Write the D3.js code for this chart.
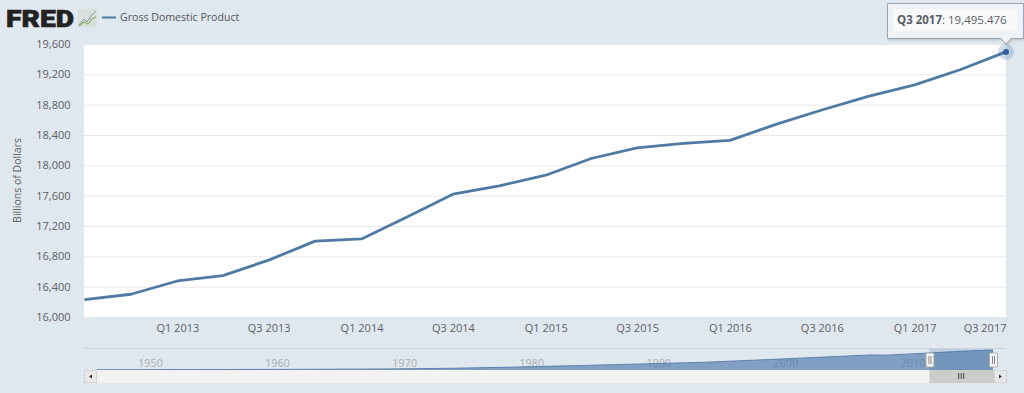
<!DOCTYPE html>
<html><head><meta charset="utf-8">
<script src="https://cdnjs.cloudflare.com/ajax/libs/d3/7.8.5/d3.min.js"></script>
<style>
html,body{margin:0;padding:0;background:#dfe7ef}
svg{display:block}
text{font-family:"Open Sans",sans-serif}
</style></head><body>
<svg id="c" width="1024" height="393"></svg>
<script>
const quarters=["2012-07-01","2012-10-01","2013-01-01","2013-04-01","2013-07-01","2013-10-01","2014-01-01","2014-04-01","2014-07-01","2014-10-01","2015-01-01","2015-04-01","2015-07-01","2015-10-01","2016-01-01","2016-04-01","2016-07-01","2016-10-01","2017-01-01","2017-04-01","2017-07-01"];
const gdp=[16230,16300,16475,16545,16750,17000,17030,17320,17620,17730,17870,18090,18230,18290,18330,18540,18730,18910,19060,19260,19495.476];
const yTicks=[16000,16400,16800,17200,17600,18000,18400,18800,19200,19600];
const xTickLabels=["2013-01-01","2013-07-01","2014-01-01","2014-07-01","2015-01-01","2015-07-01","2016-01-01","2016-07-01","2017-01-01","2017-07-01"];
const navYears=[1947,1950,1955,1960,1965,1970,1975,1980,1985,1990,1995,2000,2005,2008,2009,2012,2015,2017.5];
const navValues=[243,280,426,540,743,1050,1690,2860,4340,5960,7640,10250,13040,14700,14420,16230,18230,19495];
const navTicks=[1950,1960,1970,1980,1990,2000,2010];
const seriesName="Gross Domestic Product";
const yTitle="Billions of Dollars";

const parse=d3.utcParse("%Y-%m-%d");
const W=1024,H=393,m={l:84.5,r:1006,t:44,b:317};
const LINE="#4f7aa3";
const svg=d3.select("#c");
const x=d3.scaleUtc().domain([parse(quarters[0]),parse(quarters[quarters.length-1])]).range([m.l,m.r]);
const y=d3.scaleLinear().domain([16000,19600]).range([m.b,m.t]);

svg.append("rect").attr("x",84).attr("y",m.t).attr("width",m.r-84).attr("height",m.b-m.t).attr("fill","#fff");

// grid + y axis
const yAxis=d3.axisLeft(y).tickValues(yTicks).tickFormat(d3.format(",")).tickSize(-(m.r-84)).tickPadding(13);
const gy=svg.append("g").attr("transform","translate(84,0)").call(yAxis);
gy.select(".domain").remove();
gy.selectAll("line").attr("stroke","#e8e8e8");
gy.selectAll("text").attr("fill","#606060").attr("font-size",11).attr("dx",-.5).attr("font-family",'"Open Sans",sans-serif');
svg.append("text").attr("transform","translate(21,180.5) rotate(-90)").attr("text-anchor","middle")
  .attr("font-size",10.5).attr("fill","#606060").text(yTitle);

// x axis
const fmtQ=d=>"Q"+(Math.floor(d.getUTCMonth()/3)+1)+" "+d.getUTCFullYear();
const xAxis=d3.axisBottom(x).tickValues(xTickLabels.map(parse)).tickFormat(fmtQ).tickSize(6).tickPadding(1);
const gx=svg.append("g").attr("transform",`translate(0,${m.b})`).call(xAxis);
gx.select(".domain").remove();
gx.selectAll("line").attr("stroke","#d3dce6");
gx.selectAll("text").attr("fill","#606060").attr("font-size",11).attr("font-family",'"Open Sans",sans-serif');
gx.selectAll("text").filter(d=>+d===+parse("2017-07-01")).attr("text-anchor","end").attr("dx",0);

// main line
const pts=quarters.map((q,i)=>({d:parse(q),v:gdp[i]}));
svg.append("path").datum(pts).attr("fill","none").attr("stroke",LINE).attr("stroke-width",2.8).attr("stroke-linejoin","round")
  .attr("d",d3.line().x(p=>x(p.d)).y(p=>y(p.v)));

// hover marker
const last=pts[pts.length-1];
svg.append("circle").attr("cx",x(last.d)).attr("cy",y(last.v)).attr("r",8).attr("fill","#4572a7").attr("opacity",.25);
svg.append("circle").attr("cx",x(last.d)).attr("cy",y(last.v)).attr("r",3).attr("fill","#2f5f96");

// navigator
const nx=d3.scaleLinear().domain([1947,2017.5]).range([97,993]);
const ny=d3.scaleLinear().domain([0,19495]).range([370,350]);
const navPts=navYears.map((t,i)=>({t,v:navValues[i]}));
svg.append("line").attr("x1",84).attr("x2",m.r).attr("y1",348.5).attr("y2",348.5).attr("stroke","#ccd5df");
const navG=svg.append("g");
navG.selectAll("text").data(navTicks).join("text").attr("x",t=>nx(t)+3).attr("y",367)
  .attr("font-size",10.5).attr("fill","#a9adb2").attr("letter-spacing",".2").text(t=>t);
svg.append("path").datum(navPts).attr("fill","#4572a7").attr("fill-opacity",.62)
  .attr("d",d3.area().x(p=>nx(p.t)).y0(370).y1(p=>ny(p.v)));
svg.append("path").datum(navPts).attr("fill","none").attr("stroke","#5f82ad").attr("stroke-width",1)
  .attr("d",d3.line().x(p=>nx(p.t)).y(p=>ny(p.v)));
const selX=nx(2012.5);
svg.append("rect").attr("x",selX).attr("y",349).attr("width",993-selX).attr("height",21).attr("fill","#4572a7").attr("opacity",.22);
[selX,993].forEach(px=>{
  svg.append("rect").attr("x",px-3.5).attr("y",353).attr("width",8).attr("height",14).attr("rx",1).attr("fill","#f4f4f4").attr("stroke","#aaa");
  [-1,1].forEach(o=>svg.append("line").attr("x1",px+.5+o).attr("x2",px+.5+o).attr("y1",356).attr("y2",364).attr("stroke","#888"));
});

// scrollbar
svg.append("rect").attr("x",97).attr("y",370).attr("width",896).attr("height",13).attr("fill","#f2f2f2");
[84,994].forEach((px,i)=>{
  svg.append("rect").attr("x",px+.5).attr("y",370.5).attr("width",12).attr("height",12).attr("fill","#e8e8e8").attr("stroke","#d4d4d4");
  svg.append("path").attr("fill","#333").attr("d",i===0?`M${px+5},376.5l3,-2v4z`:`M${px+8},376.5l-3,-2v4z`);
});
svg.append("rect").attr("x",selX).attr("y",370).attr("width",994-selX).attr("height",13).attr("fill","#cccccc");
[-2.5,0,2.5].forEach(o=>svg.append("line").attr("x1",(selX+993)/2+o).attr("x2",(selX+993)/2+o).attr("y1",373).attr("y2",379).attr("stroke","#444"));

// tooltip
const tipPx=x(last.d);
svg.append("path").attr("d",`M887.5,3.5H1023.5V38.5H${tipPx+5}L${tipPx},44L${tipPx-5},38.5H887.5Z`)
  .attr("fill","#eef2f7").attr("stroke","#9aa5b1").attr("stroke-width",1)
  .style("filter","drop-shadow(1px 1px 1px rgba(0,0,0,.18))");
svg.append("rect").attr("x",893).attr("y",9).attr("width",124).attr("height",22).attr("fill","#f8f9fb");
const tt=svg.append("text").attr("x",897).attr("y",24).attr("font-size",11.5).attr("fill","#5a5f66");
tt.append("tspan").attr("font-weight",700).text(fmtQ(last.d));
tt.append("tspan").text(": "+d3.format(",.3f")(last.v));

// legend
svg.append("line").attr("x1",102).attr("x2",116).attr("y1",17.5).attr("y2",17.5).attr("stroke",LINE).attr("stroke-width",2);
svg.append("text").attr("x",120).attr("y",21).attr("font-size",10.6).attr("fill","#555").text(seriesName);

// FRED logo
svg.append("text").attr("x",6).attr("y",27).attr("font-size",24.5).attr("font-weight",900).attr("fill","#222")
  .attr("stroke","#222").attr("stroke-width",.6).attr("textLength",68).attr("lengthAdjust","spacingAndGlyphs")
  .style("font-family",'Roboto,sans-serif').text("FRED");
const icon=svg.append("g").attr("transform","translate(78,9)");
icon.append("rect").attr("width",19).attr("height",18).attr("fill","#d9e0dc");
icon.append("path").attr("d","M1,16L6,10L9,13L13,7L18,2").attr("fill","none").attr("stroke","#7d9c9f").attr("stroke-width",1);
icon.append("path").attr("d","M1,17L6,13L10,15L14,10L18,8").attr("fill","none").attr("stroke","#8fb06b").attr("stroke-width",1.2);
</script>
</body></html>
